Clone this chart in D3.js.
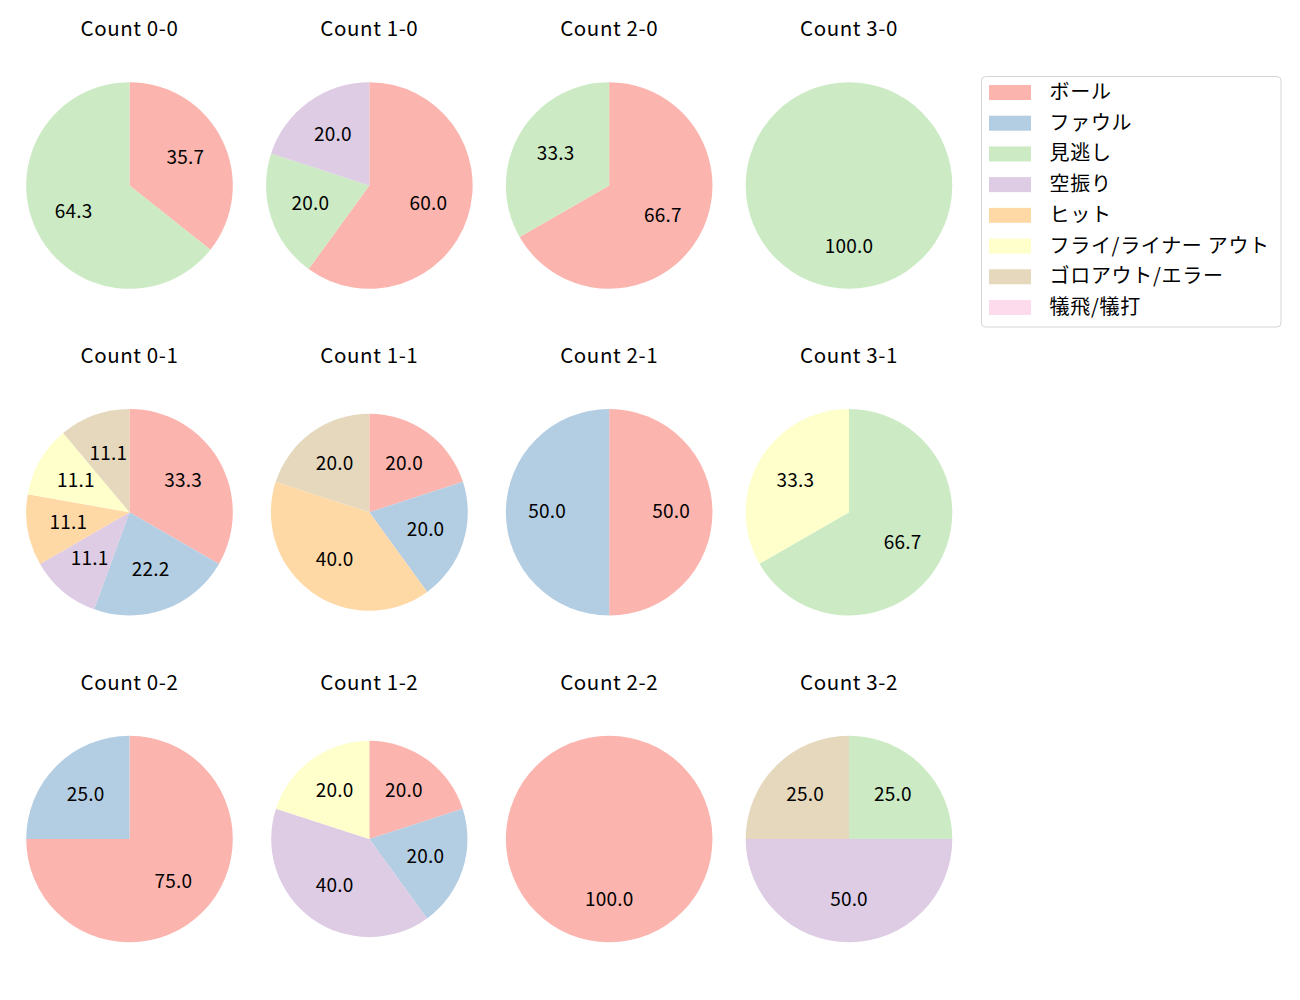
<!DOCTYPE html>
<html>
<head>
<meta charset="utf-8">
<script src="https://cdn.jsdelivr.net/npm/d3@7"></script>
<style>
  html, body { margin: 0; padding: 0; background: #fff; }
  svg { display: block; }
  text { font-family: "Noto Sans CJK JP", "Noto Sans", sans-serif; fill: #000; }
</style>
</head>
<body>
<svg id="chart" width="1300" height="1000"></svg>
<script>
// ---- data ----
const categories = ["ボール", "ファウル", "見逃し", "空振り", "ヒット", "フライ/ライナー アウト", "ゴロアウト/エラー", "犠飛/犠打"];
const colors = ["#fbb4ae", "#b3cde3", "#ccebc5", "#decbe4", "#fed9a6", "#ffffcc", "#e5d8bd", "#fddaec"];
const counts = ["0-0", "1-0", "2-0", "3-0", "0-1", "1-1", "2-1", "3-1", "0-2", "1-2", "2-2", "3-2"];
// percentage per category (order as in categories)
const v00 = [35.7, 0, 64.3, 0, 0, 0, 0, 0];
const v10 = [60.0, 0, 20.0, 20.0, 0, 0, 0, 0];
const v20 = [66.7, 0, 33.3, 0, 0, 0, 0, 0];
const v30 = [0, 0, 100.0, 0, 0, 0, 0, 0];
const v01 = [33.3, 22.2, 0, 11.1, 11.1, 11.1, 11.1, 0];
const v11 = [20.0, 20.0, 0, 0, 40.0, 0, 20.0, 0];
const v21 = [50.0, 50.0, 0, 0, 0, 0, 0, 0];
const v31 = [0, 0, 66.7, 0, 0, 33.3, 0, 0];
const v02 = [75.0, 25.0, 0, 0, 0, 0, 0, 0];
const v12 = [20.0, 20.0, 0, 40.0, 0, 20.0, 0, 0];
const v22 = [100.0, 0, 0, 0, 0, 0, 0, 0];
const v32 = [0, 0, 25.0, 50.0, 0, 0, 25.0, 0];
const seriesValues = [v00, v10, v20, v30, v01, v11, v21, v31, v02, v12, v22, v32];

// ---- layout ----
const svg = d3.select("#chart");
const colX = d3.scaleLinear().domain([0, 3]).range([129.5, 849]);
const rowY = d3.scaleLinear().domain([0, 2]).range([185.5, 839]);
const baseR = 103.3;
const radiusScale = [1, 1, 1, 1, 1, 0.953, 1, 1, 1, 0.95, 1, 1];
const color = d3.scaleOrdinal().domain(categories).range(colors);

const pie = d3.pie().sort(null).value(d => d.v)
  .startAngle(0).endAngle(2 * Math.PI);

counts.forEach((c, i) => {
  const col = i % 4, row = Math.floor(i / 4);
  const cx = colX(col), cy = rowY(row);
  const r = baseR * radiusScale[i];
  const g = svg.append("g").attr("transform", `translate(${cx},${cy})`);
  const data = categories.map((k, j) => ({ k, v: seriesValues[i][j] })).filter(d => d.v > 0);
  const arcs = pie(data);
  const arc = d3.arc().innerRadius(0).outerRadius(r);
  const labelArc = d3.arc().innerRadius(r * 0.6).outerRadius(r * 0.6);
  g.selectAll("path").data(arcs).join("path")
    .attr("d", arc)
    .attr("fill", d => color(d.data.k));
  g.selectAll("text.lbl").data(arcs).join("text")
    .attr("class", "lbl")
    .attr("transform", d => `translate(${labelArc.centroid(d)})`)
    .attr("text-anchor", "middle")
    .attr("dy", "5.5")
    .style("font-size", "19px")
    .style("letter-spacing", "0.2px")
    .text(d => d.data.v.toFixed(1));
  svg.append("text")
    .attr("x", cx).attr("y", 36)
    .attr("transform", `translate(0,${rowY(row) - rowY(0)})`)
    .attr("text-anchor", "middle")
    .style("font-size", "20.5px")
    .style("letter-spacing", "0.6px")
    .text("Count " + c);
});

// ---- legend ----
const lg = svg.append("g").attr("transform", "translate(981.5,76.5)");
lg.append("rect").attr("width", 299.5).attr("height", 250.5)
  .attr("rx", 4).attr("fill", "#fff").attr("stroke", "#d5d5d5").attr("stroke-width", 1);
const ly = d3.scaleLinear().domain([0, 7]).range([16, 231]);
categories.forEach((k, j) => {
  lg.append("rect").attr("x", 7.5).attr("y", ly(j) - 7.5).attr("width", 42).attr("height", 15)
    .attr("fill", color(k));
  lg.append("text").attr("x", 68).attr("y", ly(j)).attr("dy", "6.5")
    .style("font-size", "20px")
    .style("letter-spacing", "0.7px").text(k);
});
</script>
</body>
</html>
